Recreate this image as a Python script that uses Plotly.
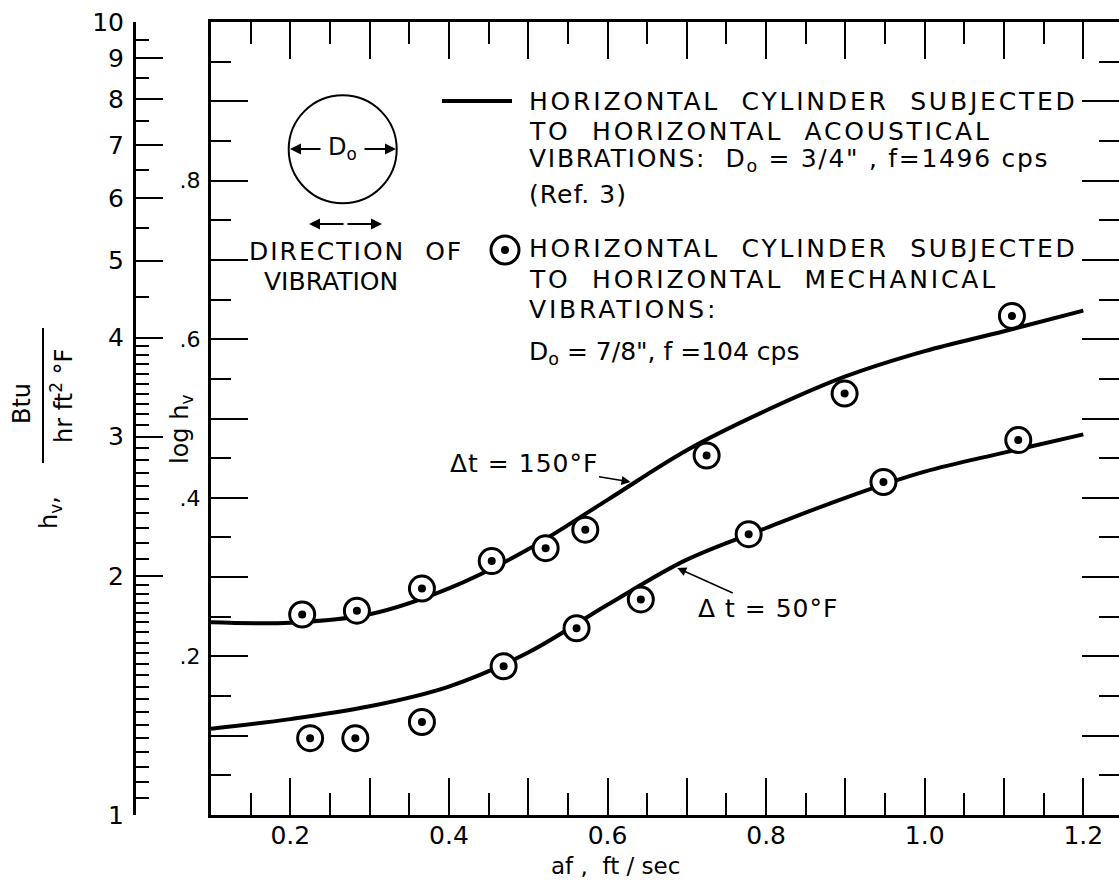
import plotly.graph_objects as go

# ---------------- data ----------------
# curve  dt = 150 F  (acoustical, Ref. 3): x in ft/sec, h_v in Btu/(hr ft2 F)
curve150_x = [0.10, 0.20, 0.30, 0.40, 0.50, 0.60, 0.70, 0.80, 0.90, 1.00, 1.10, 1.20]
curve150_h = [1.750, 1.748, 1.791, 1.931, 2.163, 2.497, 2.884, 3.236, 3.573, 3.846, 4.074, 4.325]
# curve  dt = 50 F
curve50_x = [0.10, 0.20, 0.30, 0.40, 0.50, 0.60, 0.70, 0.80, 0.90, 1.00, 1.10, 1.20]
curve50_h = [1.285, 1.321, 1.371, 1.452, 1.603, 1.841, 2.099, 2.301, 2.512, 2.710, 2.864, 3.020]
# mechanical vibration measurements
pts150_x = [0.215, 0.284, 0.366, 0.454, 0.522, 0.572, 0.725, 0.899, 1.110]
pts150_h = [1.79, 1.81, 1.93, 2.09, 2.17, 2.29, 2.84, 3.40, 4.26]
pts50_x = [0.225, 0.282, 0.366, 0.469, 0.561, 0.642, 0.778, 0.948, 1.118]
pts50_h = [1.25, 1.25, 1.31, 1.54, 1.72, 1.87, 2.26, 2.63, 2.97]

# tick definitions
x_major = [0.1, 0.2, 0.3, 0.4, 0.5, 0.6, 0.7, 0.8, 0.9, 1.0, 1.1, 1.2]
x_labels = ["", "0.2", "", "0.4", "", "0.6", "", "0.8", "", "1.0", "", "1.2"]
x_minor = [0.15, 0.25, 0.35, 0.45, 0.55, 0.65, 0.75, 0.85, 0.95, 1.05, 1.15]
log_major = [0.1, 0.2, 0.3, 0.4, 0.5, 0.6, 0.7, 0.8, 0.9]
log_labels = ["", ".2", "", ".4", "", ".6", "", ".8", ""]
log_minor = [0.05, 0.15, 0.25, 0.35, 0.45, 0.55, 0.65, 0.75, 0.85, 0.95]
h_major = [1, 2, 3, 4, 5, 6, 7, 8, 9, 10]
h_labels = ["1", "2", "3", "4", "5", "6", "7", "8", "9", "10"]
h_minor = ([1 + 0.05 * k for k in range(1, 20)] + [2 + 0.1 * k for k in range(1, 10)]
           + [3 + 0.1 * k for k in range(1, 10)] + [4.5, 5.5, 6.5, 7.5, 8.5, 9.5])

# ---------------- geometry ----------------
W, H = 1119, 885
ML, MT, MB = 134, 22, 70
PW, PH = W - ML, H - MT - MB
FRAME_X = 211
XDOM0 = (FRAME_X - ML) / PW
X_RANGE = [0.1, 0.1 + (W - FRAME_X) / 793.0]

FONT = "DejaVu Sans"
BLACK = "black"


def px(x):
    return (x - ML) / PW


def py(y):
    return (MT + PH - y) / PH


def sp(t, ls=2.8):
    return '<span style="letter-spacing:%.1fpx">%s</span>' % (ls, t)


fig = go.Figure()

for cx_, ch_ in [(curve150_x, curve150_h), (curve50_x, curve50_h)]:
    fig.add_trace(go.Scatter(x=cx_, y=ch_, mode="lines",
                             line=dict(color=BLACK, width=4, shape="spline", smoothing=1.0),
                             showlegend=False, hoverinfo="skip"))
for xs, hs in [(pts150_x, pts150_h), (pts50_x, pts50_h)]:
    fig.add_trace(go.Scatter(x=xs, y=hs, mode="markers",
                             marker=dict(size=25, color="white", line=dict(color=BLACK, width=3)),
                             showlegend=False))
    fig.add_trace(go.Scatter(x=xs, y=hs, mode="markers",
                             marker=dict(size=8, color=BLACK),
                             showlegend=False))

tickfont = dict(family=FONT, size=25, color=BLACK)

fig.update_layout(
    width=W, height=H,
    margin=dict(l=ML, r=0, t=MT, b=MB, pad=0, autoexpand=False),
    paper_bgcolor="white", plot_bgcolor="white",
    showlegend=False,
    xaxis=dict(domain=[XDOM0, 1], range=X_RANGE, showgrid=False, zeroline=False,
               automargin=False,
               showline=True, linecolor=BLACK, linewidth=3, mirror="ticks",
               ticks="inside", ticklen=37, tickwidth=1.5, tickcolor=BLACK,
               tickmode="array", tickvals=x_major, ticktext=x_labels,
               tickfont=tickfont, ticklabelstandoff=-4,
               minor=dict(tickmode="array", tickvals=x_minor, ticks="inside",
                          ticklen=22, tickwidth=1.5, tickcolor=BLACK)),
    yaxis=dict(type="log", range=[0, 1], showgrid=False, zeroline=False,
               automargin=False,
               showline=True, linecolor=BLACK, linewidth=3,
               ticks="inside", ticklen=37, tickwidth=1.5, tickcolor=BLACK,
               tickmode="array", tickvals=[10 ** v for v in log_major], ticktext=log_labels,
               tickfont=dict(family=FONT, size=22, color=BLACK), ticklabelstandoff=3,
               minor=dict(tickmode="array", tickvals=[10 ** v for v in log_minor],
                          ticks="inside", ticklen=20, tickwidth=1.5, tickcolor=BLACK)),
    yaxis2=dict(type="log", range=[0, 1], overlaying="y", anchor="free", position=0,
                side="left", showgrid=False, zeroline=False, automargin=False,
                showline=True, linecolor=BLACK, linewidth=3,
                ticks="inside", ticklen=27, tickwidth=1.5, tickcolor=BLACK,
                tickmode="array", tickvals=h_major, ticktext=h_labels,
                tickfont=tickfont, ticklabelstandoff=4,
                minor=dict(tickmode="array", tickvals=h_minor, ticks="inside",
                           ticklen=13, tickwidth=1.5, tickcolor=BLACK)),
    yaxis3=dict(type="log", range=[0, 1], overlaying="y", anchor="x", side="right",
                showgrid=False, zeroline=False, showline=False, automargin=False,
                ticks="inside", ticklen=37, tickwidth=1.5, tickcolor=BLACK,
                tickmode="array", tickvals=[10 ** v for v in log_major],
                ticktext=["" for _ in log_major],
                minor=dict(tickmode="array", tickvals=[10 ** v for v in log_minor],
                           ticks="inside", ticklen=20, tickwidth=1.5, tickcolor=BLACK)),
)
# dummy traces so the extra axes are drawn
fig.add_trace(go.Scatter(x=[None], y=[None], yaxis="y2", showlegend=False))
fig.add_trace(go.Scatter(x=[None], y=[None], yaxis="y3", showlegend=False))

ann = []


def text(x, y, t, size=25, xanchor="left", angle=0):
    ann.append(dict(xref="paper", yref="paper", x=px(x), y=py(y), text=t,
                    showarrow=False, xanchor=xanchor, yanchor="middle", textangle=angle,
                    font=dict(family=FONT, size=size, color=BLACK)))


# axis titles
text(615, 866, "af ,  ft / sec", size=23, xanchor="center")
text(181, 430, "log h<sub>v</sub>", size=24, xanchor="center", angle=-90)
text(22, 404, "Btu", size=24, xanchor="center", angle=-90)
text(62, 396, "hr ft<sup>2</sup> °F", size=24, xanchor="center", angle=-90)
text(50, 513, "h<sub>v</sub>,", size=24, xanchor="center", angle=-90)

# legend block 1
text(527, 101, sp("HORIZONTAL  CYLINDER  SUBJECTED"))
text(527, 131, sp("TO  HORIZONTAL  ACOUSTICAL"))
text(527, 160, sp("VIBRATIONS:  D<sub>o</sub> = 3/4\" , f=1496 cps", 1.7))
text(527, 194, sp("(Ref. 3)", 1))
# legend block 2
text(527, 248, sp("HORIZONTAL  CYLINDER  SUBJECTED"))
text(527, 279, sp("TO  HORIZONTAL  MECHANICAL"))
text(527, 309, sp("VIBRATIONS:"))
text(527, 353, "D<sub>o</sub> = 7/8\", f =104 cps")
# direction of vibration
text(247, 251, sp("DIRECTION  OF", 2))
text(262, 281, "VIBRATION")
# D0 in circle
text(342, 149, "D<sub>o</sub>", size=24, xanchor="center")

# arrows in the sketch
for tip_x, tip_y, dx in [(290, 149, 32), (396, 149, -33), (309, 224, 36), (382, 224, -36)]:
    ann.append(dict(xref="paper", yref="paper", x=px(tip_x), y=py(tip_y), text="",
                    showarrow=True, ax=dx, ay=0, arrowhead=2, arrowsize=1.1,
                    arrowwidth=2, arrowcolor=BLACK, standoff=0))

# curve labels
ann.append(dict(x=0.629, y=0.42, xref="x", yref="y", text=sp("Δt = 150°F", 1),
                showarrow=True, ax=-107, ay=-18, arrowhead=2, arrowsize=1.2,
                arrowwidth=1.5, arrowcolor=BLACK,
                font=dict(family=FONT, size=25, color=BLACK)))
ann.append(dict(x=0.688, y=0.3115, xref="x", yref="y", text=sp("Δ t = 50°F", 1),
                showarrow=True, ax=91, ay=41, arrowhead=2, arrowsize=1.2,
                arrowwidth=1.5, arrowcolor=BLACK,
                font=dict(family=FONT, size=25, color=BLACK)))

fig.update_layout(annotations=ann)

shapes = []
# sketch circle
cx, cy, r = 342.7, 149.3, 54
shapes.append(dict(type="circle", xref="paper", yref="paper",
                   x0=px(cx - r), x1=px(cx + r), y0=py(cy + r), y1=py(cy - r),
                   line=dict(color=BLACK, width=2)))
# legend line sample
shapes.append(dict(type="line", xref="paper", yref="paper",
                   x0=px(442), x1=px(512), y0=py(101), y1=py(101),
                   line=dict(color=BLACK, width=4)))
# legend marker sample
mx, my = 505, 250
shapes.append(dict(type="circle", xref="paper", yref="paper",
                   x0=px(mx - 14), x1=px(mx + 14), y0=py(my + 14), y1=py(my - 14),
                   fillcolor="white", line=dict(color=BLACK, width=3)))
shapes.append(dict(type="circle", xref="paper", yref="paper",
                   x0=px(mx - 4), x1=px(mx + 4), y0=py(my + 4), y1=py(my - 4),
                   fillcolor=BLACK, line=dict(color=BLACK, width=0)))
# fraction bar of the left axis title
shapes.append(dict(type="line", xref="paper", yref="paper",
                   x0=px(43), x1=px(43), y0=py(328), y1=py(463),
                   line=dict(color=BLACK, width=2)))
fig.update_layout(shapes=shapes)

fig.write_html("out.html",
               config={"displayModeBar": False},
               post_script="document.body.style.margin='0px';"
                           "document.body.style.overflow='hidden';")
